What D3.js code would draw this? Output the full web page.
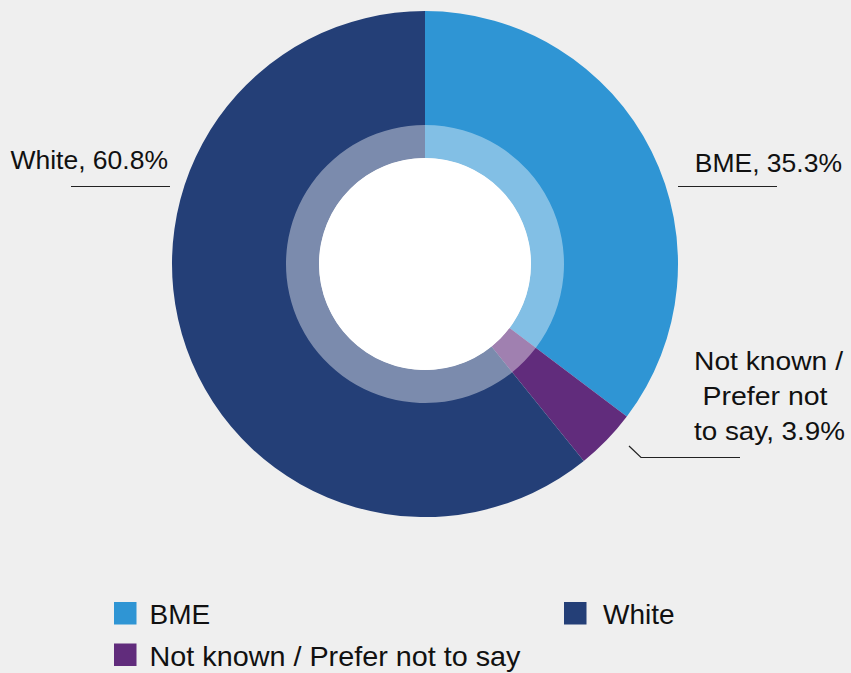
<!DOCTYPE html>
<html>
<head>
<meta charset="utf-8">
<script src="https://cdn.jsdelivr.net/npm/d3@7"></script>
<style>
  html, body { margin: 0; padding: 0; background: #efefef; }
  svg { display: block; font-family: Arial, "Liberation Sans", Helvetica, sans-serif; }
</style>
</head>
<body>
<svg id="chart" width="851" height="673"></svg>
<script>
// Ethnicity breakdown (percent)
const categories = ["BME", "Not known / Prefer not to say", "White"];
const values = [35.3, 3.9, 60.8];
const colors = ["#2f95d4", "#612c7c", "#243f77"];
const labelLines = [["BME, 35.3%"], ["Not known /", "Prefer not", "to say, 3.9%"], ["White, 60.8%"]];
const legendOrder = ["BME", "White", "Not known / Prefer not to say"];

const svg = d3.select("#chart");
const W = 851, H = 673;
svg.append("rect").attr("width", W).attr("height", H).attr("fill", "#efefef");

const cx = 425, cy = 264;
const rOuter = 253, rRing = 139, rHole = 106;

const color = d3.scaleOrdinal().domain(categories).range(colors);

const pie = d3.pie().sort(null).value(d => d.value);
const data = pie(categories.map((c, i) => ({ name: c, value: values[i] })));

const g = svg.append("g").attr("transform", `translate(${cx},${cy})`);

const arcOuter = d3.arc().innerRadius(rHole).outerRadius(rOuter);
g.selectAll("path.slice")
  .data(data)
  .enter().append("path")
  .attr("class", "slice")
  .attr("d", arcOuter)
  .attr("fill", d => color(d.data.name));

// translucent inner band
const arcBand = d3.arc().innerRadius(rHole).outerRadius(rRing);
g.selectAll("path.band")
  .data(data)
  .enter().append("path")
  .attr("class", "band")
  .attr("d", arcBand)
  .attr("fill", "#ffffff")
  .attr("fill-opacity", 0.4);

g.append("circle").attr("r", rHole).attr("fill", "#ffffff");

// data labels with leader lines
const lab = svg.append("g").attr("fill", "#111");
const leader = d => lab.append("path").attr("d", d)
  .attr("stroke", "#222").attr("stroke-width", 1.2).attr("fill", "none");

// BME
lab.append("text").attr("x", 842).attr("y", 172).attr("font-size", 26.5)
  .attr("text-anchor", "end").text(labelLines[0][0]);
leader("M678,186.5H777");

// White
lab.append("text").attr("x", 168).attr("y", 168.5).attr("font-size", 26.5)
  .attr("text-anchor", "end").text(labelLines[2][0]);
leader("M71,186.5H170");

// Not known / Prefer not to say (wrapped, slightly widened lines)
const nkX = [694, 702.5, 694];
const nkLen = [149, 125, 151];
labelLines[1].forEach((t, i) => {
  lab.append("text").attr("x", nkX[i]).attr("y", 370 + i * 35).attr("font-size", 26)
    .attr("textLength", nkLen[i]).attr("lengthAdjust", "spacingAndGlyphs").text(t);
});
leader("M629,446L641,457.5H740");

// legend
const legendPos = {
  "BME": [114, 602],
  "White": [564, 602],
  "Not known / Prefer not to say": [114, 643.5]
};
const leg = svg.append("g").attr("font-size", 28).attr("fill", "#111");
legendOrder.forEach(name => {
  const [x, y] = legendPos[name];
  leg.append("rect").attr("x", x).attr("y", y).attr("width", 22.5).attr("height", 22.5).attr("fill", color(name));
  const t = leg.append("text").attr("x", x + (name === "White" ? 39 : 35.5)).attr("y", y + 22.3).text(name);
  if (name === "Not known / Prefer not to say") {
    t.attr("textLength", 371).attr("lengthAdjust", "spacingAndGlyphs");
  }
});
</script>
</body>
</html>
